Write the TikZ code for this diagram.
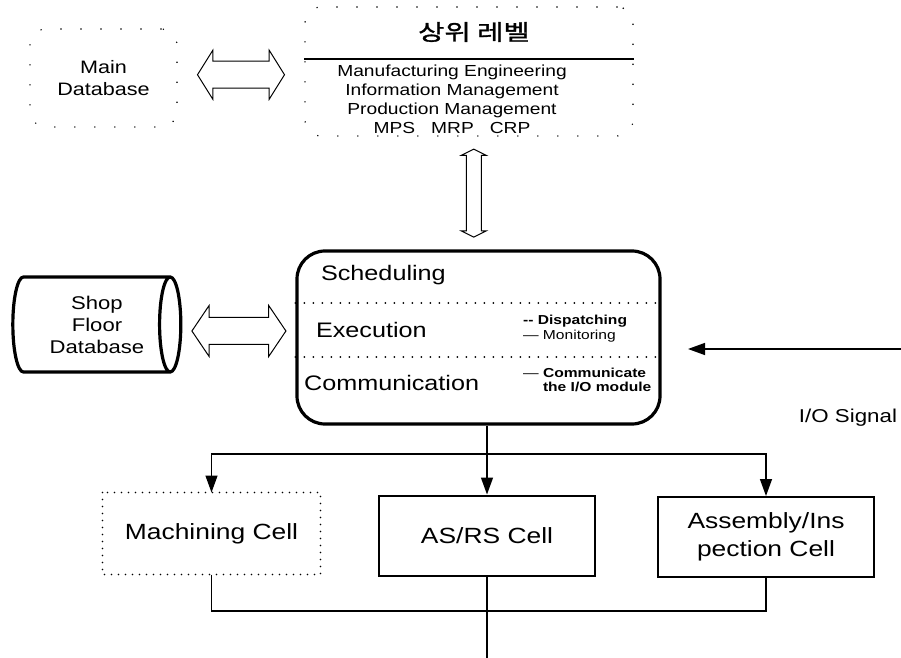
\documentclass[tikz,border=0pt]{standalone}
\usepackage{fontspec}
\setmainfont{Liberation Sans}[FakeStretch=1.2]
\newfontfamily\korfont{Noto Sans CJK KR}[FakeStretch=1.3,FakeBold=1.5]
\usetikzlibrary{arrows.meta,shapes.geometric,shapes.arrows,calc}

\tikzset{
  sparsebox/.style={draw, rounded corners=8pt, line width=0.8pt, line cap=round, dash pattern=on 0pt off 10pt},
  dotbox/.style={draw, line width=0.9pt, line cap=round, dash pattern=on 0pt off 3.5pt},
  cellbox/.style={draw, line width=1pt, minimum width=108pt, minimum height=40pt, inner sep=0pt, align=center, font=\fontsize{11}{14}\selectfont},
  ctrlbox/.style={draw, line width=1.6pt, rounded corners=14pt, minimum width=181.5pt, minimum height=86.5pt},
  dblarrow/.style={draw, double arrow, inner sep=0pt, text width=0pt, text depth=0pt, line width=0.5pt},
  sepline/.style={line width=1pt, line cap=round, dash pattern=on 0pt off 4.5pt},
  flow/.style={line width=0.7pt, -{Triangle[length=8.5pt,width=6pt]}},
  wire/.style={line width=0.7pt}
}

\begin{document}
\begin{tikzpicture}[x=0.5pt,y=-0.5pt]
\useasboundingbox (0,0) rectangle (901,658);
% upper level
\node[sparsebox, minimum width=73.5pt, minimum height=49pt, align=center, font=\fontsize{9}{11}\selectfont] (maindb) at (103.5,78) {Main\\Database};
\node[sparsebox, minimum width=164pt, minimum height=64.5pt] (upper) at (469,71.5) {};
\node[font=\korfont\fontsize{11}{12}\selectfont] (uptitle) at (474,32) {상위 레벨};
\draw[line width=0.8pt] (upper.west |- 0,59) -- (upper.east |- 0,59);
\node[anchor=north, inner sep=0pt, align=center, font=\fontsize{8}{9.5}\selectfont] (uplist) at (452,65)
  {Manufacturing Engineering\\Information Management\\Production Management\\MPS\quad MRP\quad CRP};
\node[dblarrow, text height=13pt, minimum height=43.5pt, double arrow head extend=5.5pt, double arrow tip angle=116] (dbarrow) at ($(maindb.east)!.5!(upper.west)$) {};
%
% control
\node[ctrlbox] (ctrl) at (478.5,337.5) {};
\node[dblarrow, rotate=90, text height=7pt, minimum height=44pt, double arrow head extend=2.5pt, double arrow tip angle=127] (uparrow) at ($(upper.south)!.5!(ctrl.north)$) {};
\draw[sepline] (ctrl.west |- 0,303) -- (ctrl.east |- 0,303);
\draw[sepline] (ctrl.west |- 0,357) -- (ctrl.east |- 0,357);
\node[anchor=west, font=\fontsize{10.5}{12}\selectfont] (sched) at (314,275) {Scheduling};
\node[anchor=west, font=\fontsize{10.5}{12}\selectfont] (exec) at (309,330) {Execution};
\node[anchor=west, font=\fontsize{10.5}{12}\selectfont] (comm) at (297,383) {Communication};
\node[anchor=west, font=\fontsize{6.5}{7}\selectfont] (dispatch) at (516,321) {\bfseries -{}- Dispatching};
\node[anchor=west, font=\fontsize{6.5}{7}\selectfont] (monitor) at (516,336) {— Monitoring};
\node[anchor=west, align=left, font=\fontsize{6.5}{7}\selectfont] (commio) at (516,380) {— \textbf{Communicate}\\\phantom{— }\textbf{the I/O module}};
%
% shop floor
\node[draw, cylinder, line width=1.6pt, minimum width=47.5pt, minimum height=84pt, aspect=0.3, align=center, font=\fontsize{9.2}{11}\selectfont] (shopdb) at (88,324.5)
  {\hspace*{9pt}Shop\\\hspace*{9pt}Floor\\\hspace*{9pt}Database};
\node[dblarrow, text height=13pt, minimum height=47pt, double arrow head extend=6pt, double arrow tip angle=112] (sfarrow) at ($(shopdb.east)!.5!(ctrl.west)$) {};
%
% I/O signal
\coordinate (iosrc) at (901,349);
\coordinate (iotip) at (688,349);
\draw[flow] (iosrc) -- (iotip);
\node[font=\fontsize{9.3}{11}\selectfont] (iolabel) at (848,418) {I/O Signal};
%
% cells
\node[cellbox, draw=none] (mach) at (211.5,533.5) {Machining Cell};
\draw[dotbox] (mach.north west) rectangle (mach.south east);
\node[cellbox] (asrs) at (487,535.5) {AS/RS Cell};
\node[cellbox] (assy) at (766,537) {Assembly/Ins\\pection Cell};
%
\coordinate (split) at (487,454);
\coordinate (merge) at (487,611);
\coordinate (out) at (487,658);
\draw[flow] (asrs.north |- ctrl.south) -- (asrs.north);
\draw[flow] (split) -| (mach.north);
\draw[flow] (split) -| (assy.north);
\draw[wire] (mach.south) |- (merge) -| (assy.south);
\draw[wire] (asrs.south) -- (out);
\end{tikzpicture}
\end{document}
